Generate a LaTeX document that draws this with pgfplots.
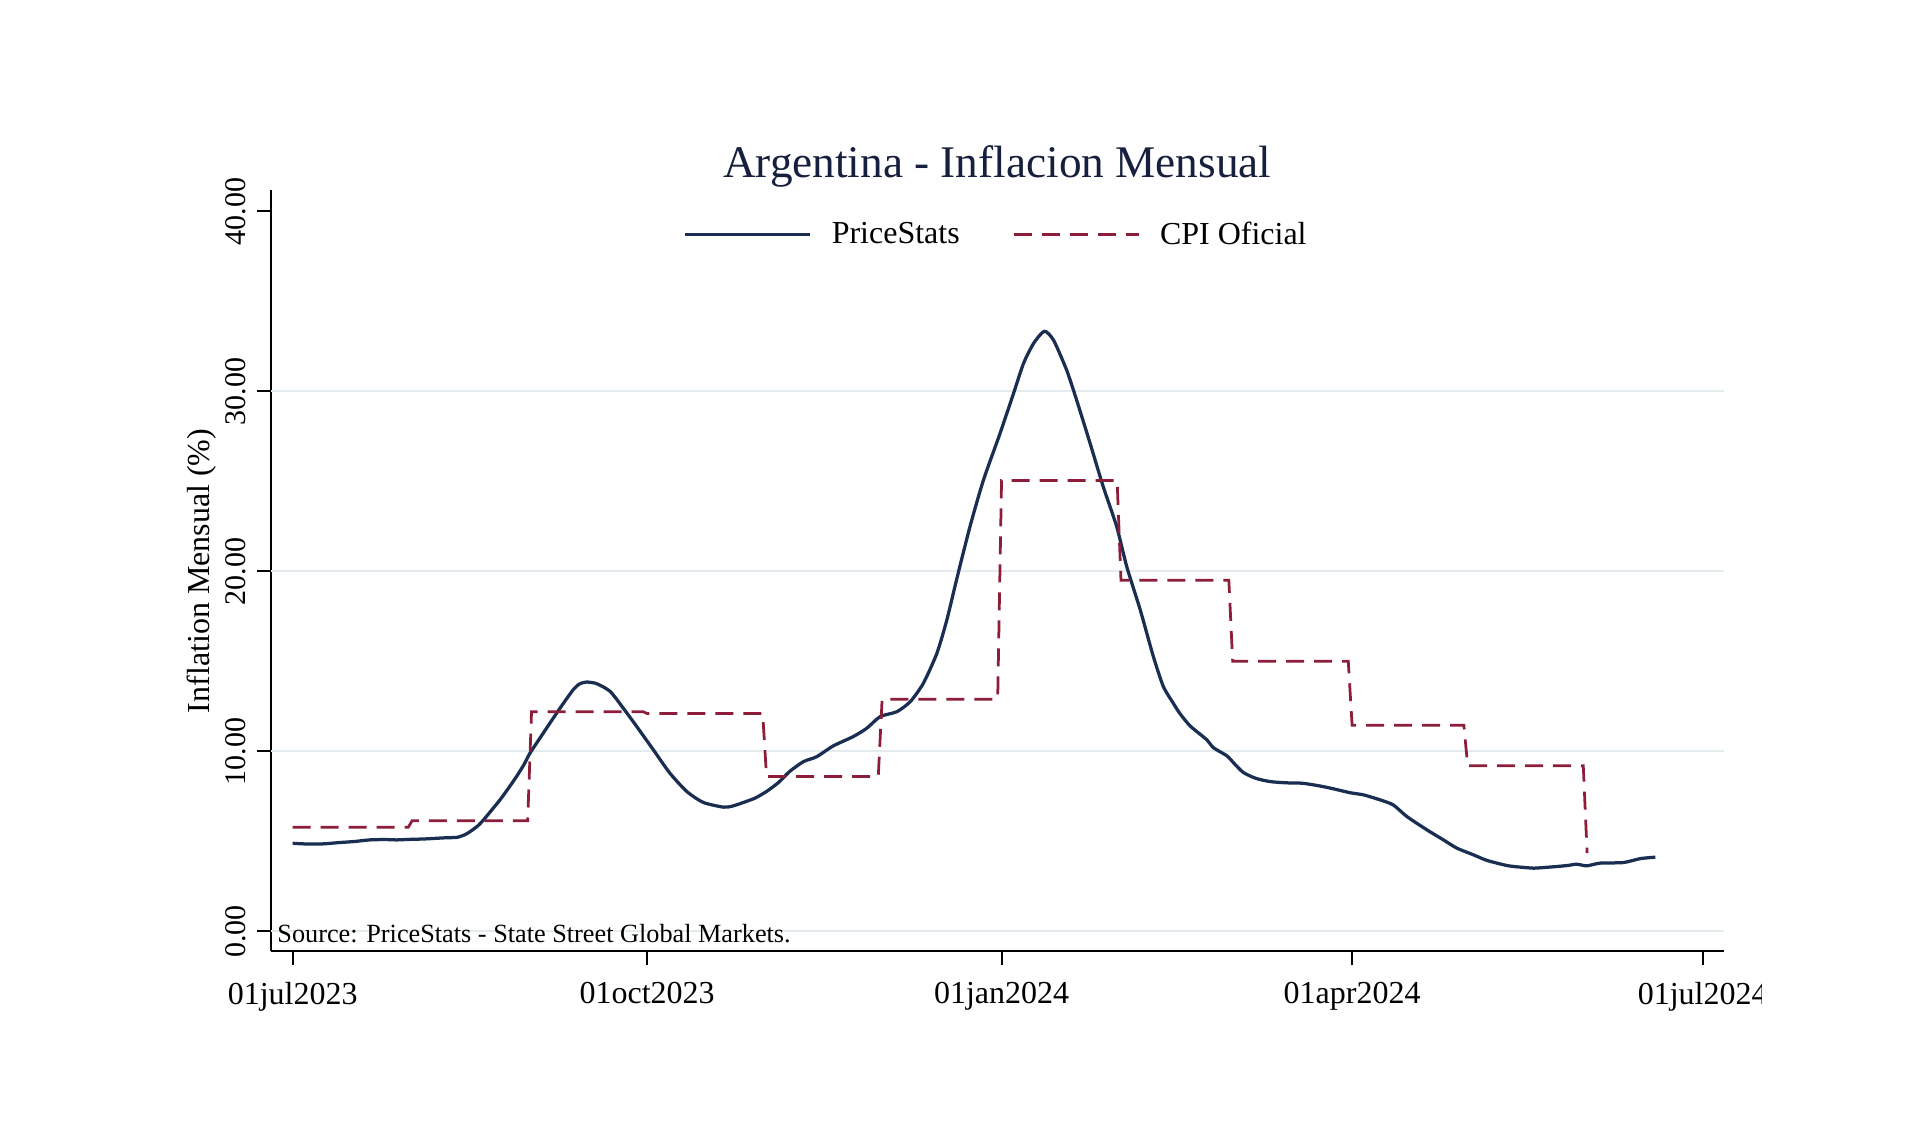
\documentclass[border=0pt]{standalone}
\usepackage{fontspec}
\setmainfont{Liberation Serif}
\usepackage{pgfplots}
\pgfplotsset{compat=1.18}
\usetikzlibrary{backgrounds}
\definecolor{psnavy}{RGB}{26,46,82}
\definecolor{cpired}{RGB}{140,30,58}
\definecolor{gridc}{RGB}{228,235,238}
\definecolor{titlec}{RGB}{22,32,62}

\pgfplotstableread{
d v
0 4.89
4 4.85
8 4.86
12 4.93
16 4.99
20 5.08
24 5.10
27 5.08
30.5 5.11
34 5.13
37.4 5.17
40 5.20
42.6 5.22
44.5 5.35
46 5.53
48 5.85
49.5 6.18
51.5 6.70
53.8 7.30
56 7.95
58.1 8.60
60 9.25
61.6 9.90
65 11.0
69.4 12.4
72.8 13.42
74.5 13.75
76.3 13.85
78.9 13.76
82.4 13.33
85.8 12.4
89.3 11.38
93.6 10.09
97.9 8.79
102.3 7.77
106.6 7.16
111.8 6.90
114 6.95
117 7.16
120 7.40
123 7.77
126 8.25
129.1 8.90
132.6 9.43
136 9.70
140.3 10.30
145.5 10.82
149 11.28
152.5 11.93
156.8 12.20
160.3 12.76
163.7 13.78
167.2 15.44
169.8 17.30
172.4 19.60
175.8 22.48
179.3 25.07
183.6 27.66
187.1 29.88
189.7 31.55
192.3 32.66
195.1 33.34
197.5 32.84
200.9 31.18
203.5 29.51
207 27.10
210.4 24.70
213.9 22.48
216.5 20.26
220 17.86
223.4 15.27
226 13.60
228.5 12.70
230.3 12.10
233 11.40
237.3 10.64
239 10.20
242.5 9.75
244.5 9.30
246.8 8.82
250 8.50
253.7 8.32
258 8.25
262 8.23
266 8.10
269.5 7.95
274.5 7.70
278 7.58
282.3 7.30
285.7 7.02
289.2 6.38
294.4 5.64
298.7 5.08
302.2 4.62
306.5 4.25
310 3.94
315.1 3.66
318 3.58
322.1 3.51
325 3.55
328.1 3.60
331 3.66
333.3 3.73
335.9 3.64
339.4 3.79
345.4 3.82
349.8 4.04
353.7 4.12
}\pricestats

\pgfplotstableread{
d v
0 5.78
30 5.78
31 6.15
61 6.15
62 12.2
91 12.2
92 12.1
122 12.1
123 8.6
152 8.6
153 12.9
183 12.9
184 25.05
214 25.05
215 19.5
243 19.5
244 15.0
274 15.0
275 11.45
304 11.45
305 9.2
335 9.2
336 4.35
}\cpi

\begin{document}
\begin{tikzpicture}
\begin{axis}[
  scale only axis, width=581pt, height=304.4pt,
  xmin=-5.63, xmax=371.4, ymin=-1.12, ymax=41.16,
  axis lines=left,
  axis line style={-, line width=0.8pt, black},
  xtick={0,92,184,275,366},
  xticklabels={01jul2023,01oct2023,01jan2024,01apr2024,01jul2024},
  ytick={0,10,20,30,40},
  yticklabels={0.00,10.00,20.00,30.00,40.00},
  tick align=outside,
  major tick length=5.6pt,
  tick style={black, line width=0.8pt},
  extra y ticks={0,10,20,30},
  extra y tick labels={},
  extra y tick style={grid=major, major tick length=0pt, grid style={gridc, line width=0.9pt}},
  xticklabel shift=6.6pt,
  yticklabel shift=4.3pt,
  xticklabel style={font=\fontsize{12.8}{14}\selectfont, anchor=north, inner sep=0pt},
  yticklabel style={font=\fontsize{12}{14}\selectfont, rotate=90, anchor=south, inner sep=0pt},
  ylabel={Inflation Mensual (\%)},
  ylabel style={font=\fontsize{12.8}{14}\selectfont, at={(axis description cs:-0.0477,0.5)}, anchor=center, inner sep=0pt},
  title={Argentina - Inflacion Mensual},
  title style={font=\fontsize{18.1}{20}\selectfont, text=titlec, at={(axis description cs:0.5,1)}, anchor=base, yshift=-0.8pt},
  legend columns=2,
  legend style={draw=none, fill=none, font=\fontsize{12.8}{14}\selectfont,
    at={(axis description cs:0.4985,0.942)}, anchor=center,
    nodes={inner sep=0pt},
    /tikz/every even column/.append style={column sep=21pt},
    /tikz/every odd column/.append style={column sep=8pt}},
  legend image code/.code={\draw[#1] (0pt,0pt) -- (50pt,0pt);},
  clip=false,
]
\addplot[psnavy, line width=1.3pt, line join=round, smooth, tension=0.4] table[x=d, y=v] {\pricestats};
\addlegendentry{PriceStats}
\addplot[cpired, line width=1.1pt, dash pattern=on 7.2pt off 4pt] table[x=d, y=v] {\cpi};
\addlegendentry{CPI Oficial}
\node[anchor=base west, inner sep=0pt, font=\fontsize{10.5}{12}\selectfont] at (axis description cs:0.0041,0.0118) {Source: PriceStats - State Street Global Markets.};
\end{axis}
\fill[white] ([shift={(596.4pt,-40pt)}]current axis.south west) rectangle ++(60pt,38pt);
\path[use as bounding box] ([shift={(-108.4pt,-71pt)}]current axis.south west) rectangle ++(768pt,451.6pt);
\begin{scope}[on background layer]
\fill[white] ([shift={(-108.4pt,-71pt)}]current axis.south west) rectangle ++(768pt,451.6pt);
\end{scope}
\end{tikzpicture}
\end{document}
